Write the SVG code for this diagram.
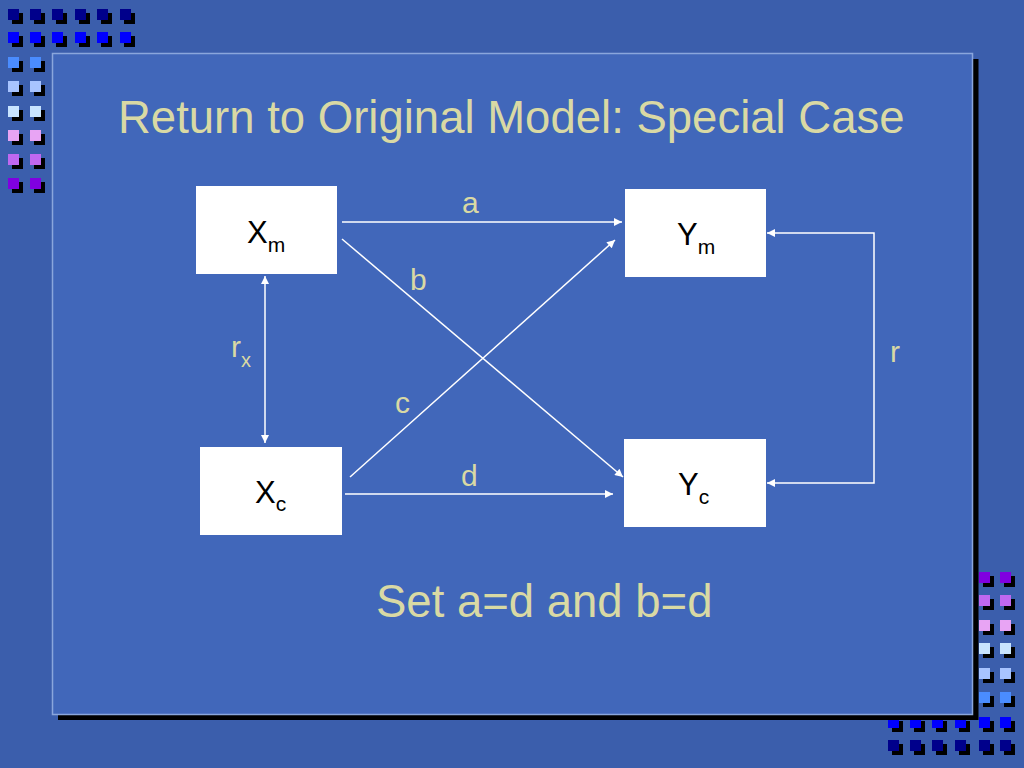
<svg xmlns="http://www.w3.org/2000/svg" xmlns:xlink="http://www.w3.org/1999/xlink" width="1024" height="768" viewBox="0 0 1024 768">
<style>
.lbl{font-family:"Liberation Sans",Arial,sans-serif;fill:#D9D9A4}
.title{font-size:45.5px}
.el{font-size:30px}
.node rect{fill:#FFFFFF}
.ntext{font-family:"Liberation Sans",Arial,sans-serif;font-size:31px;fill:#000000}
.conn{stroke:#FFFFFF;stroke-width:1.5;fill:none}
</style>
<defs>
<g id="sq"><rect x="4" y="4" width="11" height="11" fill="#000000"/><rect x="0" y="0" width="11" height="11"/></g>
<marker id="ah" viewBox="0 0 10 10" refX="10" refY="5" markerWidth="9" markerHeight="8" markerUnits="userSpaceOnUse" orient="auto-start-reverse">
<path d="M0,0 L10,5 L0,10 z" fill="#FFFFFF"/>
</marker>
</defs>
<rect x="0" y="0" width="1024" height="768" fill="#3B5EAC"/>
<g id="deco-topleft">
<use xlink:href="#sq" x="8" y="9" fill="#00008B"/><use xlink:href="#sq" x="30" y="9" fill="#00008B"/><use xlink:href="#sq" x="52" y="9" fill="#00008B"/><use xlink:href="#sq" x="75" y="9" fill="#00008B"/><use xlink:href="#sq" x="97" y="9" fill="#00008B"/><use xlink:href="#sq" x="120" y="9" fill="#00008B"/>
<use xlink:href="#sq" x="8" y="32" fill="#0000FF"/><use xlink:href="#sq" x="30" y="32" fill="#0000FF"/><use xlink:href="#sq" x="52" y="32" fill="#0000FF"/><use xlink:href="#sq" x="75" y="32" fill="#0000FF"/><use xlink:href="#sq" x="97" y="32" fill="#0000FF"/><use xlink:href="#sq" x="120" y="32" fill="#0000FF"/>
<use xlink:href="#sq" x="8" y="57" fill="#4A8CFF"/><use xlink:href="#sq" x="30" y="57" fill="#4A8CFF"/>
<use xlink:href="#sq" x="8" y="81" fill="#A8C4FF"/><use xlink:href="#sq" x="30" y="81" fill="#A8C4FF"/>
<use xlink:href="#sq" x="8" y="106" fill="#C8E4FF"/><use xlink:href="#sq" x="30" y="106" fill="#C8E4FF"/>
<use xlink:href="#sq" x="8" y="130" fill="#E8A4F4"/><use xlink:href="#sq" x="30" y="130" fill="#E8A4F4"/>
<use xlink:href="#sq" x="8" y="154" fill="#C068F0"/><use xlink:href="#sq" x="30" y="154" fill="#C068F0"/>
<use xlink:href="#sq" x="8" y="178" fill="#8000E0"/><use xlink:href="#sq" x="30" y="178" fill="#8000E0"/>
</g>
<g id="deco-bottomright">
<use xlink:href="#sq" x="979" y="572" fill="#8000E0"/><use xlink:href="#sq" x="1000" y="572" fill="#8000E0"/>
<use xlink:href="#sq" x="979" y="595" fill="#C068F0"/><use xlink:href="#sq" x="1000" y="595" fill="#C068F0"/>
<use xlink:href="#sq" x="979" y="620" fill="#E8A4F4"/><use xlink:href="#sq" x="1000" y="620" fill="#E8A4F4"/>
<use xlink:href="#sq" x="979" y="643" fill="#C8E4FF"/><use xlink:href="#sq" x="1000" y="643" fill="#C8E4FF"/>
<use xlink:href="#sq" x="979" y="668" fill="#A8C4FF"/><use xlink:href="#sq" x="1000" y="668" fill="#A8C4FF"/>
<use xlink:href="#sq" x="979" y="692" fill="#4A8CFF"/><use xlink:href="#sq" x="1000" y="692" fill="#4A8CFF"/>
<use xlink:href="#sq" x="888" y="717" fill="#0000FF"/><use xlink:href="#sq" x="910" y="717" fill="#0000FF"/><use xlink:href="#sq" x="932" y="717" fill="#0000FF"/><use xlink:href="#sq" x="955" y="717" fill="#0000FF"/><use xlink:href="#sq" x="979" y="717" fill="#0000FF"/><use xlink:href="#sq" x="1000" y="717" fill="#0000FF"/>
<use xlink:href="#sq" x="888" y="740" fill="#00008B"/><use xlink:href="#sq" x="910" y="740" fill="#00008B"/><use xlink:href="#sq" x="932" y="740" fill="#00008B"/><use xlink:href="#sq" x="955" y="740" fill="#00008B"/><use xlink:href="#sq" x="979" y="740" fill="#00008B"/><use xlink:href="#sq" x="1000" y="740" fill="#00008B"/>
</g>
<g id="panel">
<rect x="58" y="59" width="920.5" height="661" fill="#000000"/>
<rect x="52.5" y="53.5" width="920" height="661" fill="#4167BA" stroke="#8AA6DC" stroke-width="1.5"/>
</g>
<text class="lbl title" x="118" y="133">Return to Original Model: Special Case</text>
<g id="connectors">
<line class="conn" x1="342" y1="222" x2="622" y2="222" marker-end="url(#ah)"/>
<line class="conn" x1="342" y1="239" x2="623" y2="477" marker-end="url(#ah)"/>
<line class="conn" x1="350" y1="477" x2="615" y2="240" marker-end="url(#ah)"/>
<line class="conn" x1="345" y1="494" x2="613" y2="494" marker-end="url(#ah)"/>
<path class="conn" d="M767,233 H874 V483 H767" marker-start="url(#ah)" marker-end="url(#ah)"/>
<line class="conn" x1="265" y1="276" x2="265" y2="443" marker-start="url(#ah)" marker-end="url(#ah)"/>
</g>
<g id="edge-labels">
<text class="lbl el" x="462" y="213">a</text>
<text class="lbl el" x="410" y="290">b</text>
<text class="lbl el" x="395" y="413">c</text>
<text class="lbl el" x="461" y="486">d</text>
<text class="lbl el" x="890" y="362">r</text>
<text class="lbl el" x="231" y="357">r<tspan font-size="20" dy="10">x</tspan></text>
</g>
<g id="node-Xm" class="node"><rect x="196" y="186" width="141" height="88"/><text class="ntext" x="247" y="243">X<tspan font-size="21" dy="9">m</tspan></text></g>
<g id="node-Xc" class="node"><rect x="200" y="447" width="142" height="88"/><text class="ntext" x="255" y="503">X<tspan font-size="21" dy="8">c</tspan></text></g>
<g id="node-Ym" class="node"><rect x="625" y="189" width="141" height="88"/><text class="ntext" x="677" y="245">Y<tspan font-size="21" dy="9">m</tspan></text></g>
<g id="node-Yc" class="node"><rect x="624" y="439" width="142" height="88"/><text class="ntext" x="678" y="495">Y<tspan font-size="21" dy="9">c</tspan></text></g>
<text class="lbl title" x="376" y="617">Set a=d and b=d</text>
</svg>
